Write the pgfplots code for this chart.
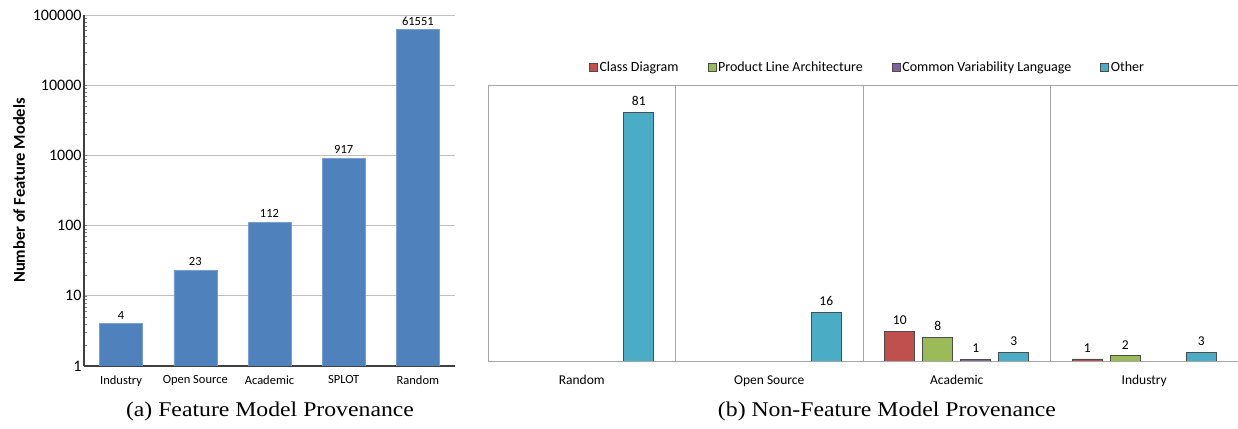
\documentclass[border=0pt]{standalone}
\usepackage{fontspec}
\setmainfont{Carlito}
\newfontfamily\capfont[FakeStretch=1.13]{Liberation Serif}
\usepackage{pgfplots}
\pgfplotsset{compat=1.18}

\definecolor{fmblue}{HTML}{4F81BD}
\definecolor{fmedge}{HTML}{7A9FCF}
\definecolor{cdred}{HTML}{C0504D}
\definecolor{plagreen}{HTML}{9BBB59}
\definecolor{cvlpurple}{HTML}{8064A2}
\definecolor{othercyan}{HTML}{4BACC6}
\definecolor{frame}{HTML}{A6A6A6}

\pgfplotsset{/pgf/number format/assume math mode=true}

\begin{document}
\begin{tikzpicture}
\useasboundingbox (0pt,0pt) rectangle (1238pt,428pt);

% ---------- (a) number of feature models per source, log scale ----------
\begin{axis}[
  at={(84pt,62pt)}, anchor=south west,
  scale only axis, width=371pt, height=351pt,
  ymode=log, ymin=1, ymax=100000,
  xmin=-0.5, xmax=4.5,
  xtick={0,1,2,3,4},
  xticklabels={Industry,Open Source,Academic,SPLOT,Random},
  ytick={1,10,100,1000,10000,100000},
  yticklabels={1,10,100,1000,10000,100000},
  minor ytick={},
  major tick length=0pt,
  x tick label style={font=\fontsize{12.5}{14}\selectfont, yshift=-6pt},
  y tick label style={font=\fontsize{16}{18}\selectfont, xshift=1pt},
  axis x line*=bottom, axis y line*=left,
  x axis line style={-, draw=black!75, line width=1.3pt},
  y axis line style={-, draw=black!75, line width=1.8pt},
  ymajorgrids, major grid style={draw=black!25, line width=0.9pt},
  ylabel={\bfseries Number of Feature Models},
  every axis y label/.style={at={(axis description cs:-0.175,0.5)}, rotate=90, anchor=center,
                             font=\fontsize{16.5}{18}\selectfont},
  ybar, bar width=43pt,
  nodes near coords, point meta=explicit symbolic,
  every node near coord/.append style={font=\fontsize{12.5}{14}\selectfont, yshift=1pt},
]
\addplot[fill=fmblue, draw=fmedge, line width=0.6pt] coordinates {
  (0,4) [4]
  (1,23) [23]
  (2,112) [112]
  (3,917) [917]
  (4,61551) [61551]
};
\end{axis}

% ---------- (b) non-feature models per source and notation ----------
\begin{axis}[
  at={(488pt,66pt)}, anchor=south west,
  scale only axis, width=750pt, height=277pt,
  ymin=0, ymax=90,
  xmin=-0.5, xmax=3.5,
  xtick={0,1,2,3},
  xticklabels={Random,Open Source,Academic,Industry},
  ytick=\empty,
  major tick length=0pt,
  x tick label style={font=\fontsize{13.5}{15}\selectfont, yshift=-10pt},
  extra x ticks={0.5,1.5,2.5},
  extra x tick labels={},
  extra x tick style={grid=major, major grid style={draw=frame, line width=0.8pt}},
  axis line style={draw=none},
  ybar, bar width=30pt,
  nodes near coords, point meta=explicit symbolic,
  every node near coord/.append style={font=\fontsize{13.5}{15}\selectfont, yshift=3pt, black},
  legend columns=4,
  legend style={at={(rel axis cs:0.506,1)}, anchor=center, yshift=18pt, draw=none,
                font=\fontsize{14}{16}\selectfont,
                /tikz/every even column/.append style={column sep=27pt}},
  legend image code/.code={\draw[#1, draw=black!70, line width=0.5pt] (0pt,-4pt) rectangle (8pt,4pt);},
]
\addplot[fill=cdred, draw=black!70, line width=0.7pt, bar shift=-57pt] coordinates {
  (2,10) [10]
  (3,1) [1]
};
\addplot[fill=plagreen, draw=black!70, line width=0.7pt, bar shift=-19pt] coordinates {
  (2,8) [8]
  (3,2) [2]
};
\addplot[fill=cvlpurple, draw=black!70, line width=0.7pt, bar shift=19pt] coordinates {
  (2,1) [1]
};
\addplot[fill=othercyan, draw=black!70, line width=0.7pt, bar shift=57pt] coordinates {
  (0,81) [81]
  (1,16) [16]
  (2,3) [3]
  (3,3) [3]
};
\legend{Class Diagram,Product Line Architecture,Common Variability Language,Other}
% plot frame: left, top and bottom edges
\draw[frame, line width=1pt] (rel axis cs:1,1) -- (rel axis cs:0,1) -- (rel axis cs:0,0) -- (rel axis cs:1,0);
\end{axis}

% ---------- sub-figure captions ----------
\node[anchor=base, font=\capfont\fontsize{21}{24}\selectfont] at (270pt,12pt) {(a) Feature Model Provenance};
\node[anchor=base, font=\capfont\fontsize{21}{24}\selectfont] at (887pt,12pt) {(b) Non-Feature Model Provenance};
\end{tikzpicture}
\end{document}
